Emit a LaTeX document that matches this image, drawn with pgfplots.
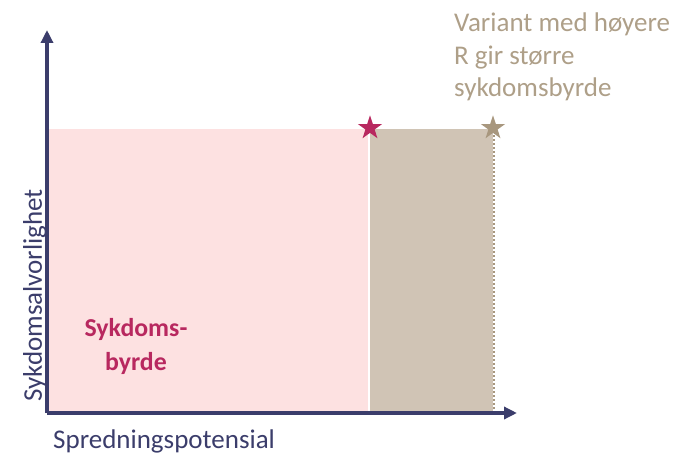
\documentclass[border=0pt]{standalone}
\usepackage{fontspec}
\setmainfont{Carlito}
\usepackage{pgfplots}
\pgfplotsset{compat=1.18}
\usetikzlibrary{arrows.meta}
\definecolor{axiscol}{HTML}{3B3D6B}
\definecolor{pinkfill}{HTML}{FDE1E1}
\definecolor{tanfill}{HTML}{D0C4B5}
\definecolor{crimson}{HTML}{B8285F}
\definecolor{tanstar}{HTML}{A8977E}
\definecolor{tantext}{HTML}{AE9F88}
\pgfdeclareplotmark{fstar}{%
  \pgfpathmoveto{\pgfpointpolar{90}{\pgfplotmarksize}}%
  \pgfpathlineto{\pgfpointpolar{126}{0.382\pgfplotmarksize}}%
  \pgfpathlineto{\pgfpointpolar{162}{\pgfplotmarksize}}%
  \pgfpathlineto{\pgfpointpolar{198}{0.382\pgfplotmarksize}}%
  \pgfpathlineto{\pgfpointpolar{234}{\pgfplotmarksize}}%
  \pgfpathlineto{\pgfpointpolar{270}{0.382\pgfplotmarksize}}%
  \pgfpathlineto{\pgfpointpolar{306}{\pgfplotmarksize}}%
  \pgfpathlineto{\pgfpointpolar{342}{0.382\pgfplotmarksize}}%
  \pgfpathlineto{\pgfpointpolar{18}{\pgfplotmarksize}}%
  \pgfpathlineto{\pgfpointpolar{54}{0.382\pgfplotmarksize}}%
  \pgfpathclose\pgfusepathqfill}
\begin{document}
\begin{tikzpicture}
\begin{axis}[
  scale only axis, width=470bp, height=383bp,
  xmin=0, xmax=470, ymin=0, ymax=383,
  axis lines*=left, xtick=\empty, ytick=\empty,
  axis line style={line width=3.5bp, axiscol},
  x axis line style={-{Triangle[width=12bp,length=13bp]}},
  y axis line style={-{Triangle[width=12bp,length=13bp]}},
  clip=false, axis on top,
]
\path (axis cs:-47,413) rectangle (axis cs:628,-41);
\addplot[fill=pinkfill, draw=none] coordinates {(0,0) (321,0) (321,284) (0,284)} -- cycle;
\addplot[fill=tanfill, draw=none] coordinates {(323,0) (446,0) (446,284) (323,284)} -- cycle;
\addplot[tanstar, line width=1.5bp, dash pattern=on 2.5bp off 1.5bp] coordinates {(447,0) (447,284)};
\addplot[only marks, mark=fstar, mark size=12.75pt, crimson] coordinates {(323,285)};
\addplot[only marks, mark=fstar, mark size=12.75pt, tanstar] coordinates {(446,285)};
\node[anchor=base west, inner sep=0pt, axiscol, font=\fontsize{27bp}{32bp}\selectfont] at (axis cs:6,-35) {Spredningspotensial};
\node[anchor=base west, inner sep=0pt, axiscol, rotate=90, font=\fontsize{27bp}{32bp}\selectfont] at (axis cs:-5,11) {Sykdomsalvorlighet};
\node[anchor=base west, inner sep=0pt, tantext, font=\fontsize{27bp}{32bp}\selectfont] at (axis cs:407,381) {Variant med høyere};
\node[anchor=base west, inner sep=0pt, tantext, font=\fontsize{27bp}{32bp}\selectfont] at (axis cs:407,348.5) {R gir større};
\node[anchor=base west, inner sep=0pt, tantext, font=\fontsize{27bp}{32bp}\selectfont] at (axis cs:407,316) {sykdomsbyrde};
\node[anchor=base, inner sep=0pt, crimson, font=\fontsize{25.8bp}{32bp}\selectfont\bfseries] at (axis cs:89,76.5) {Sykdoms-};
\node[anchor=base, inner sep=0pt, crimson, font=\fontsize{25.8bp}{32bp}\selectfont\bfseries] at (axis cs:89,43) {byrde};
\end{axis}
\end{tikzpicture}
\end{document}
